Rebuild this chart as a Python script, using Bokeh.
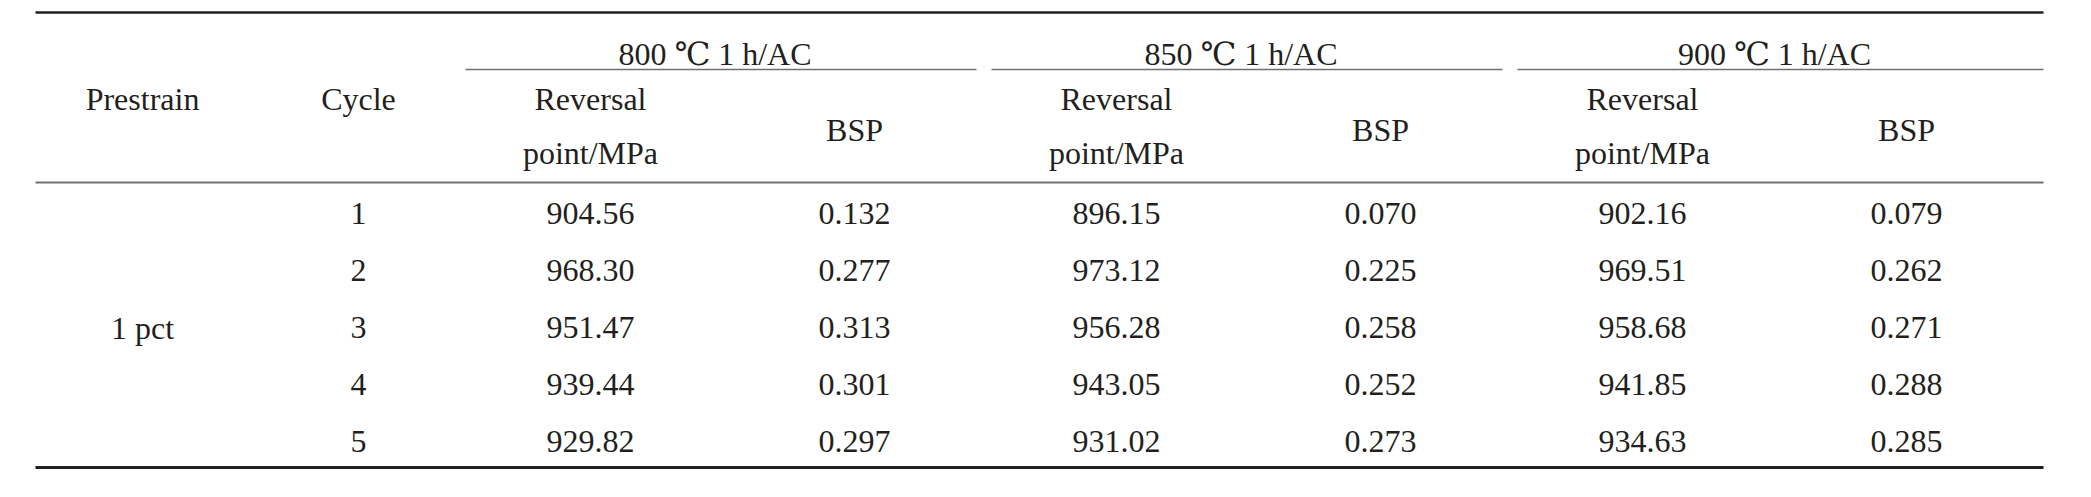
from bokeh.plotting import figure
from bokeh.models import Range1d, ColumnDataSource
from bokeh.core.properties import value
from bokeh.embed import file_html
from bokeh.resources import INLINE

# ---- data ----
prestrain = ["1 pct"]
cycles = ["1", "2", "3", "4", "5"]
groups = ["800 ℃ 1 h/AC", "850 ℃ 1 h/AC", "900 ℃ 1 h/AC"]
rev_800 = [904.56, 968.30, 951.47, 939.44, 929.82]
bsp_800 = [0.132, 0.277, 0.313, 0.301, 0.297]
rev_850 = [896.15, 973.12, 956.28, 943.05, 931.02]
bsp_850 = [0.070, 0.225, 0.258, 0.252, 0.273]
rev_900 = [902.16, 969.51, 958.68, 941.85, 934.63]
bsp_900 = [0.079, 0.262, 0.271, 0.288, 0.285]
col_heads = ["Prestrain", "Cycle"]
sub_heads = ["Reversal", "point/MPa", "BSP"]

# ---- layout (image pixel coordinates) ----
W, H = 2075, 481
X0, Y0 = 0, 0
TABLE_L, TABLE_R = 35, 2043
TOP_RULE, GROUP_RULE, HEAD_RULE, BOTTOM_RULE = 12, 69, 182, 467
group_left = [465, 991, 1517]
group_right = [976, 1502, 2043]
x_prestrain, x_cycle = 142, 358
row_c0, row_step = 213, 57
FONT = value("Liberation Serif, DejaVu Serif, serif")
FS = "32px"
TXT = "#231f20"

p = figure(width=W, height=H, output_backend="svg", toolbar_location=None,
           x_range=Range1d(X0, X0 + W), y_range=Range1d(Y0 + H, Y0),
           x_axis_location=None, y_axis_location=None, min_border=0)
p.grid.visible = False
p.outline_line_color = None
p.background_fill_color = "white"
p.border_fill_color = "white"

def txt(xs, ys, texts):
    src = ColumnDataSource(dict(x=xs, y=ys, t=texts))
    p.text(x="x", y="y", text="t", source=src, text_font=FONT,
           text_font_size=FS, text_color=TXT, text_align="center",
           text_baseline="middle")

# rules
p.segment(x0=[TABLE_L], x1=[TABLE_R], y0=[TOP_RULE], y1=[TOP_RULE],
          line_color="#231f20", line_width=2.5)
p.segment(x0=group_left, x1=group_right, y0=[GROUP_RULE] * 3, y1=[GROUP_RULE] * 3,
          line_color="#707070", line_width=1.6)
p.segment(x0=[TABLE_L], x1=[TABLE_R], y0=[HEAD_RULE], y1=[HEAD_RULE],
          line_color="#707070", line_width=2)
p.segment(x0=[TABLE_L], x1=[TABLE_R], y0=[BOTTOM_RULE], y1=[BOTTOM_RULE],
          line_color="#231f20", line_width=3)

# header
txt([x_prestrain, x_cycle], [98, 98], col_heads)
hdr_x = [(l + r) / 2 - 6 for l, r in zip(group_left, group_right)]
txt(hdr_x, [53] * 3, groups)
rev_x = [l + 125 for l in group_left]
bsp_x = [l + 389 for l in group_left]
txt(rev_x, [98] * 3, [sub_heads[0]] * 3)
txt(rev_x, [152] * 3, [sub_heads[1]] * 3)
txt(bsp_x, [129] * 3, [sub_heads[2]] * 3)

# body
row_y = [row_c0 + i * row_step for i in range(len(cycles))]
txt([x_prestrain], [row_y[2]], prestrain)
txt([x_cycle] * len(cycles), row_y, cycles)
for gi, (rv, bs) in enumerate([(rev_800, bsp_800), (rev_850, bsp_850), (rev_900, bsp_900)]):
    txt([rev_x[gi]] * len(rv), row_y, [f"{v:.2f}" for v in rv])
    txt([bsp_x[gi]] * len(bs), row_y, [f"{v:.3f}" for v in bs])

open("out.html", "w").write(file_html(p, INLINE))
